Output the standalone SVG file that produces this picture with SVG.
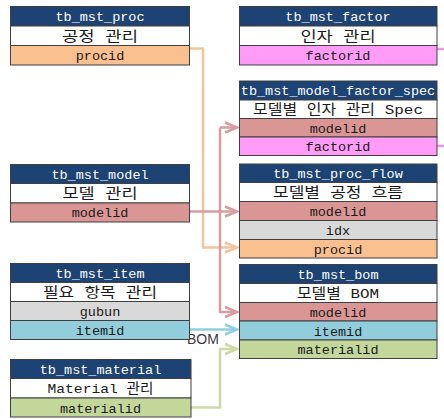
<svg xmlns="http://www.w3.org/2000/svg" width="444" height="419" viewBox="0 0 444 419">
<style>
  .hd{fill:#1d4274;stroke:#3f3f3f;stroke-width:1}
  .w{fill:#ffffff;stroke:#3f3f3f;stroke-width:1}
  .or{fill:#fac090;stroke:#3f3f3f;stroke-width:1}
  .pk{fill:#ff9cf8;stroke:#3f3f3f;stroke-width:1}
  .rs{fill:#da9694;stroke:#3f3f3f;stroke-width:1}
  .gy{fill:#d9d9d9;stroke:#3f3f3f;stroke-width:1}
  .bl{fill:#92cddc;stroke:#3f3f3f;stroke-width:1}
  .gr{fill:#c4d79b;stroke:#3f3f3f;stroke-width:1}
  text{font-family:"Liberation Mono","Noto Sans CJK KR",monospace;font-size:13.5px;text-anchor:middle}
  .ht{fill:#ffffff}
  .rt{fill:#1a1a1a}
  .c{fill:none;stroke-width:2.5;stroke-linejoin:round}
  .lbl{font-family:"Liberation Sans",Arial,sans-serif;font-size:14px;fill:#3a3a3a;text-anchor:start}
</style>
<defs>
  <marker id="aO" markerUnits="userSpaceOnUse" viewBox="-14 -7 16 14" refX="0" refY="0" markerWidth="16" markerHeight="14" orient="auto"><path d="M-12,-5 L0,0 L-12,5" fill="none" stroke="#f5c49a" stroke-width="2.5"/></marker>
  <marker id="aP" markerUnits="userSpaceOnUse" viewBox="-14 -7 16 14" refX="0" refY="0" markerWidth="16" markerHeight="14" orient="auto"><path d="M-12,-5 L0,0 L-12,5" fill="none" stroke="#d99c9e" stroke-width="2.5"/></marker>
  <marker id="aB" markerUnits="userSpaceOnUse" viewBox="-14 -7 16 14" refX="0" refY="0" markerWidth="16" markerHeight="14" orient="auto"><path d="M-12,-5 L0,0 L-12,5" fill="none" stroke="#8fcfe0" stroke-width="2.5"/></marker>
  <marker id="aG" markerUnits="userSpaceOnUse" viewBox="-14 -7 16 14" refX="0" refY="0" markerWidth="16" markerHeight="14" orient="auto"><path d="M-12,-5 L0,0 L-12,5" fill="none" stroke="#cddaa6" stroke-width="2.5"/></marker>
</defs>

<g id="connectors">
  <path class="c" d="M190,48.5 H203 V247.5 H237" stroke="#f5c49a" marker-end="url(#aO)"/>
  <path class="c" d="M220,127.5 H237" stroke="#d99c9e" marker-end="url(#aP)"/>
  <path class="c" d="M220,127.5 V312 H237" stroke="#d99c9e" marker-end="url(#aP)"/>
  <path class="c" d="M190,211.5 H237" stroke="#d99c9e" marker-end="url(#aP)"/>
  <path class="c" d="M190,329.5 H237" stroke="#8fcfe0" marker-end="url(#aB)"/>
  <path class="c" d="M191,407.5 H220 V349 H237" stroke="#cddaa6" marker-end="url(#aG)"/>
  <path class="c" d="M437,49 H444" stroke="#e89ae0"/>
  <path class="c" d="M437,146 H444" stroke="#e89ae0"/>
  <text class="lbl" x="187" y="344">BOM</text>
</g>

<g id="tb_mst_proc">
  <rect class="hd" x="10.5" y="6.5" width="179" height="19.5"/>
  <rect class="w" x="10.5" y="26" width="179" height="19.5"/>
  <rect class="or" x="10.5" y="45.5" width="179" height="19.5"/>
  <text class="ht" x="100" y="21">tb_mst_proc</text>
  <text class="rt" x="100" y="40.5" textLength="76" lengthAdjust="spacingAndGlyphs">공정 관리</text>
  <text class="rt" x="100" y="60">procid</text>
</g>

<g id="tb_mst_factor">
  <rect class="hd" x="239.5" y="6.5" width="197.5" height="19.5"/>
  <rect class="w" x="239.5" y="26" width="197.5" height="19.5"/>
  <rect class="pk" x="239.5" y="45.5" width="197.5" height="19.5"/>
  <text class="ht" x="338" y="21">tb_mst_factor</text>
  <text class="rt" x="338" y="40.5" textLength="75" lengthAdjust="spacingAndGlyphs">인자 관리</text>
  <text class="rt" x="338" y="60">factorid</text>
</g>

<g id="tb_mst_model_factor_spec">
  <rect class="hd" x="239.5" y="81" width="197.5" height="19"/>
  <rect class="w" x="239.5" y="100" width="197.5" height="18.5"/>
  <rect class="rs" x="239.5" y="118.5" width="197.5" height="18.5"/>
  <rect class="pk" x="239.5" y="137" width="197.5" height="18.5"/>
  <text class="ht" x="338" y="95">tb_mst_model_factor_spec</text>
  <text class="rt" x="338" y="114" textLength="170" lengthAdjust="spacingAndGlyphs">모델별 인자 관리 Spec</text>
  <text class="rt" x="338" y="132.5">modelid</text>
  <text class="rt" x="338" y="151">factorid</text>
</g>

<g id="tb_mst_model">
  <rect class="hd" x="10.5" y="164.5" width="179" height="19"/>
  <rect class="w" x="10.5" y="183.5" width="179" height="19.5"/>
  <rect class="rs" x="10.5" y="203" width="179" height="19"/>
  <text class="ht" x="100" y="178.5">tb_mst_model</text>
  <text class="rt" x="100" y="198" textLength="75" lengthAdjust="spacingAndGlyphs">모델 관리</text>
  <text class="rt" x="100" y="217">modelid</text>
</g>

<g id="tb_mst_proc_flow">
  <rect class="hd" x="239.5" y="164" width="197.5" height="18.5"/>
  <rect class="w" x="239.5" y="182.5" width="197.5" height="19"/>
  <rect class="rs" x="239.5" y="201.5" width="197.5" height="19"/>
  <rect class="gy" x="239.5" y="220.5" width="197.5" height="19"/>
  <rect class="or" x="239.5" y="239.5" width="197.5" height="18.5"/>
  <text class="ht" x="338" y="178">tb_mst_proc_flow</text>
  <text class="rt" x="338" y="197" textLength="130" lengthAdjust="spacingAndGlyphs">모델별 공정 흐름</text>
  <text class="rt" x="338" y="216">modelid</text>
  <text class="rt" x="338" y="235">idx</text>
  <text class="rt" x="338" y="253.5">procid</text>
</g>

<g id="tb_mst_item">
  <rect class="hd" x="10.5" y="263.5" width="179" height="19"/>
  <rect class="w" x="10.5" y="282.5" width="179" height="19"/>
  <rect class="gy" x="10.5" y="301.5" width="179" height="19"/>
  <rect class="bl" x="10.5" y="320.5" width="179" height="19"/>
  <text class="ht" x="100" y="277.5">tb_mst_item</text>
  <text class="rt" x="100" y="297" textLength="114" lengthAdjust="spacingAndGlyphs">필요 항목 관리</text>
  <text class="rt" x="100" y="316">gubun</text>
  <text class="rt" x="100" y="335">itemid</text>
</g>

<g id="tb_mst_bom">
  <rect class="hd" x="239.5" y="264.5" width="197.5" height="19"/>
  <rect class="w" x="239.5" y="283.5" width="197.5" height="19"/>
  <rect class="rs" x="239.5" y="302.5" width="197.5" height="18.5"/>
  <rect class="bl" x="239.5" y="321" width="197.5" height="19"/>
  <rect class="gr" x="239.5" y="340" width="197.5" height="18.5"/>
  <text class="ht" x="338" y="278.5">tb_mst_bom</text>
  <text class="rt" x="338" y="298" textLength="82" lengthAdjust="spacingAndGlyphs">모델별 BOM</text>
  <text class="rt" x="338" y="316.5">modelid</text>
  <text class="rt" x="338" y="335.5">itemid</text>
  <text class="rt" x="338" y="354">materialid</text>
</g>

<g id="tb_mst_material">
  <rect class="hd" x="10.5" y="359.5" width="180.5" height="19"/>
  <rect class="w" x="10.5" y="378.5" width="180.5" height="19.5"/>
  <rect class="gr" x="10.5" y="398" width="180.5" height="19"/>
  <text class="ht" x="100.5" y="373.5">tb_mst_material</text>
  <text class="rt" x="100.5" y="393" textLength="106" lengthAdjust="spacingAndGlyphs">Material 관리</text>
  <text class="rt" x="100.5" y="412.5">materialid</text>
</g>
</svg>
